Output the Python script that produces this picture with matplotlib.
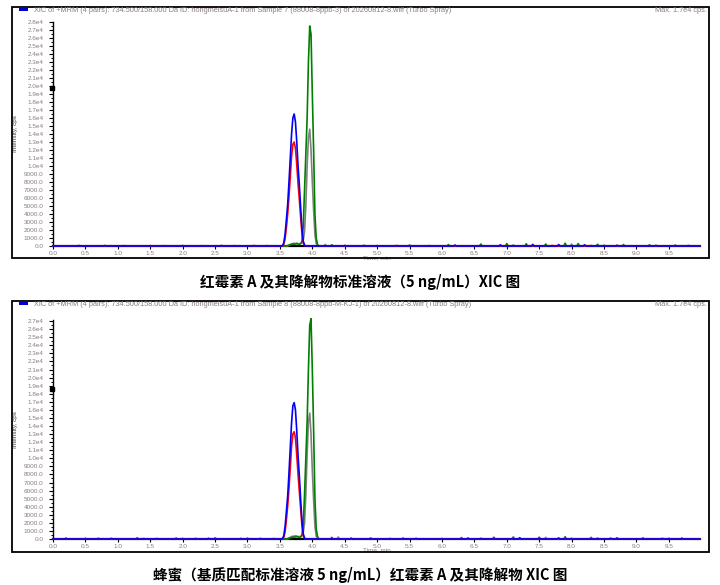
import numpy as np
import matplotlib.pyplot as plt
from matplotlib.patches import Rectangle
from matplotlib.ticker import MultipleLocator, FuncFormatter

plt.rcParams['font.family'] = ['Liberation Sans', 'DejaVu Sans']

# retention time points across the peak window (min)
t_peak = [3.50, 3.52, 3.54, 3.56, 3.58, 3.60, 3.62, 3.64, 3.66, 3.68, 3.70,
          3.72, 3.74, 3.76, 3.78, 3.80, 3.82, 3.84, 3.86, 3.88, 3.90, 3.92,
          3.94, 3.96, 3.98, 4.00, 4.02, 4.04, 4.06, 4.08, 4.10, 4.12, 4.14]

# panel 1 : standard solution 5 ng/mL (cps)
std_blue = [0, 0, 50, 400, 1500, 3300, 5200, 8000, 11000, 14000, 16000, 16500,
            15500, 13000, 10000, 7600, 4800, 2200, 600, 100, 0,
            0, 0, 0, 0, 0, 0, 0, 0, 0, 0, 0, 0]
std_red = [0, 0, 0, 200, 900, 2300, 4000, 6200, 8600, 11200, 12700, 13000,
           12200, 10200, 7800, 5800, 3600, 1600, 400, 60, 0,
           0, 0, 0, 0, 0, 0, 0, 0, 0, 0, 0, 0]
std_green = [0, 0, 0, 0, 0, 0, 50, 100, 150, 200, 250, 200, 250, 300, 250, 200,
             300, 600, 2500, 7000, 11500, 16000, 23000, 27500, 26500, 19000,
             12000, 4000, 1000, 200, 0, 0, 0]
std_gray = [0, 0, 0, 0, 0, 0, 0, 100, 200, 250, 300, 350, 300, 350, 300, 250,
            300, 400, 700, 1800, 5000, 10000, 13500, 14600, 12000, 8000, 4500,
            1500, 300, 50, 0, 0, 0]

# panel 2 : honey matrix-matched standard 5 ng/mL (cps)
mx_blue = [0, 0, 60, 420, 1550, 3400, 5300, 8200, 11300, 14400, 16500, 16900,
           16000, 13400, 10300, 7800, 4900, 2300, 650, 100, 0,
           0, 0, 0, 0, 0, 0, 0, 0, 0, 0, 0, 0]
mx_red = [0, 0, 0, 200, 900, 2350, 4100, 6300, 8800, 11500, 13000, 13300,
          12500, 10400, 8000, 5900, 3700, 1650, 420, 60, 0,
          0, 0, 0, 0, 0, 0, 0, 0, 0, 0, 0, 0]
mx_green = [0, 0, 0, 0, 0, 0, 50, 100, 150, 200, 200, 250, 250, 300, 250, 200,
            250, 500, 1800, 5500, 10000, 14500, 21000, 26500, 27300, 21000,
            13500, 5000, 1300, 300, 50, 0, 0]
mx_gray = [0, 0, 0, 0, 0, 0, 0, 100, 200, 300, 350, 350, 400, 350, 300, 300,
           300, 400, 800, 2000, 5500, 10500, 14500, 15600, 13000, 8500, 4800,
           1600, 350, 60, 0, 0, 0]

# baseline noise spikes (time, cps)
std_noise = {
    'blue': ([0.8, 1.5, 2.6, 3.1, 4.5, 5.3, 6.2, 6.9, 7.4, 7.8, 8.2, 8.7, 9.3],
             [60, 50, 70, 60, 80, 60, 120, 150, 200, 180, 150, 100, 80]),
    'red': ([2.3, 5.8, 7.7, 8.3], [50, 60, 80, 70]),
    'green': ([0.4, 1.1, 2.0, 2.8, 4.3, 4.8, 5.5, 6.1, 6.6, 7.0, 7.3, 7.6, 7.9,
               8.1, 8.4, 8.8, 9.2, 9.6],
              [80, 60, 70, 50, 150, 100, 120, 180, 250, 300, 280, 250, 350,
               300, 220, 180, 150, 120]),
    'gray': ([1.7, 3.3, 4.2, 5.0, 7.1, 8.0, 8.5, 9.8],
             [50, 60, 200, 80, 150, 250, 120, 100]),
}
mx_noise = {
    'blue': ([0.9, 1.6, 2.4, 3.2, 4.6, 5.6, 6.4, 7.2, 7.8, 8.6, 9.4],
             [80, 60, 90, 70, 100, 80, 120, 150, 130, 100, 80]),
    'red': ([2.0, 3.4, 6.0, 8.0], [80, 60, 70, 90]),
    'green': ([0.2, 0.7, 1.3, 1.9, 2.5, 3.0, 4.3, 4.9, 5.4, 6.3, 6.8, 7.1, 7.5,
               7.9, 8.3, 8.7, 9.1, 9.7],
              [120, 100, 150, 120, 140, 110, 200, 130, 120, 180, 220, 250, 230,
               280, 200, 160, 140, 120]),
    'gray': ([0.5, 1.4, 2.2, 2.9, 4.4, 5.2, 6.6, 7.6, 8.4, 9.5],
             [100, 90, 110, 100, 250, 90, 120, 200, 150, 110]),
}

header_std = ('XIC of +MRM (4 pairs): 734.500/158.000 Da ID: hongmeisuA-1 from '
              'Sample 7 (88008-8ppb-3) of 20260812-8.wiff (Turbo Spray)')
header_mx = ('XIC of +MRM (4 pairs): 734.500/158.000 Da ID: hongmeisuA-1 from '
             'Sample 8 (88008-8ppb-M-KJ-1) of 20260812-8.wiff (Turbo Spray)')
max_text = 'Max. 1.7e4 cps.'
caption_std = '红霉素 A 及其降解物标准溶液（5 ng/mL）XIC 图'
caption_mx = '蜂蜜（基质匹配标准溶液 5 ng/mL）红霉素 A 及其降解物 XIC 图'

colors = {'blue': '#0000ff', 'red': '#ff0000', 'green': '#008000', 'gray': '#808080'}
txt_gray = '#8a7d7d'


def build(noise, peak):
    pts = [(0.0, 0.0), (9.98, 0.0)]
    for bt, bv in zip(*noise):
        pts += [(bt - 0.02, 0.0), (bt, bv), (bt + 0.02, 0.0)]
    pts += list(zip(t_peak, peak))
    pts.sort()
    x, y = zip(*pts)
    return np.array(x), np.array(y)


def fmt_y(v, pos):
    if v >= 10000:
        return '%.1fe4' % (v / 1e4)
    return '%.1f' % v


fig = plt.figure(figsize=(7.2, 5.85), dpi=100)


def panel(box_bottom, ax_rect, ytop, traces, noise, header, marker_y):
    # outer frame
    fig.patches.append(Rectangle((12 / 720, box_bottom), 697 / 720, 251 / 585,
                                 transform=fig.transFigure, fill=False,
                                 edgecolor='black', lw=1.3))
    top_y = box_bottom + 251 / 585
    fig.patches.append(Rectangle((19 / 720, top_y - 4 / 585), 9 / 720, 3 / 585,
                                 transform=fig.transFigure, facecolor='#0000cc',
                                 edgecolor='none'))
    fig.text(34 / 720, top_y - 3.5 / 585, header, fontsize=5.3, color=txt_gray,
             ha='left', va='center')
    fig.text(707 / 720, top_y - 3.5 / 585, max_text, fontsize=5.3, color=txt_gray,
             ha='right', va='center')

    ax = fig.add_axes(ax_rect)
    for name in ['gray', 'green', 'red', 'blue']:
        x, y = build(noise[name], traces[name])
        ax.plot(x, y, color=colors[name], lw=1.2, zorder=3, clip_on=False)

    ax.set_xlim(0, 9.98)
    ax.set_ylim(0, ytop)
    ax.spines['top'].set_visible(False)
    ax.spines['right'].set_visible(False)
    ax.spines['left'].set_linewidth(1.0)
    ax.spines['bottom'].set_linewidth(1.6)
    ax.xaxis.set_major_locator(MultipleLocator(0.5))
    ax.xaxis.set_major_formatter(FuncFormatter(lambda v, p: '%.1f' % v if v < 9.9 else ''))
    ax.yaxis.set_major_locator(MultipleLocator(1000))
    ax.yaxis.set_minor_locator(MultipleLocator(500))
    ax.yaxis.set_major_formatter(FuncFormatter(fmt_y))
    ax.tick_params(axis='y', which='major', length=3, width=0.8, pad=4,
                   labelsize=4.6, labelcolor=txt_gray)
    ax.tick_params(axis='y', which='minor', length=1.5, width=0.7)
    ax.tick_params(axis='x', which='major', length=2, width=0.8, pad=1.5,
                   labelsize=4.6, labelcolor=txt_gray)
    ax.set_xlabel('Time, min', fontsize=4.6, color=txt_gray, labelpad=0)
    ax.set_ylabel('Intensity, cps', fontsize=4.6, color='#404040', labelpad=0)
    ax.yaxis.set_label_coords(-0.054, 0.5)
    ax.xaxis.set_label_coords(0.5, -0.04)
    ax.plot([-0.02], [marker_y], marker='s', ms=2.6, color='black',
            clip_on=False, zorder=4)
    return ax


panel(1 - 258 / 585, [53 / 720, 1 - 246 / 585, 647 / 720, 224 / 585], 28000,
      {'blue': std_blue, 'red': std_red, 'green': std_green, 'gray': std_gray},
      std_noise, header_std, 19800)
panel(1 - 552 / 585, [53 / 720, 1 - 539 / 585, 647 / 720, 219.5 / 585], 27200,
      {'blue': mx_blue, 'red': mx_red, 'green': mx_green, 'gray': mx_gray},
      mx_noise, header_mx, 18600)

cap_font = ['Noto Sans CJK SC', 'DejaVu Sans']
fig.text(0.5, 1 - 282 / 585, caption_std, fontsize=10.5, fontweight='bold',
         family=cap_font, ha='center', va='center')
fig.text(0.5, 1 - 575 / 585, caption_mx, fontsize=10.5, fontweight='bold',
         family=cap_font, ha='center', va='center')

fig.savefig('out.png', dpi=100)
